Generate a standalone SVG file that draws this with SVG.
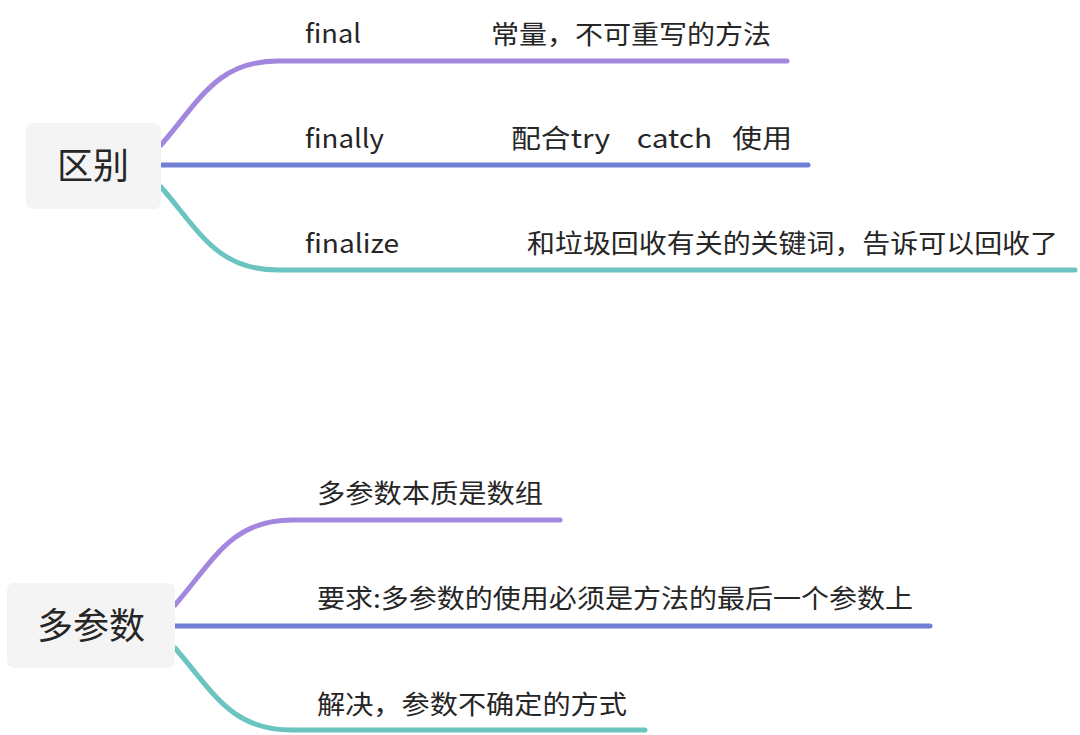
<svg xmlns="http://www.w3.org/2000/svg" width="1080" height="735" viewBox="0 0 1080 735">
<style>
.node rect{fill:#f4f4f4}
.root{font-family:"Noto Sans CJK SC","Noto Sans",sans-serif;font-size:36px;fill:#262626;text-anchor:middle}
.leaf{font-family:"Noto Sans CJK SC","Noto Sans",sans-serif;font-size:26px;fill:#262626;white-space:pre}
.c{fill:none;stroke-width:5;stroke-linecap:round}
.p{stroke:#a386dd}
.b{stroke:#6f7fd6}
.t{stroke:#6cc4c0}
</style>
<rect width="1080" height="735" fill="#ffffff"/>
<g id="connectors">
<path class="c p" d="M161,145 C200,100 217,61 278,61 L787,61"/>
<path class="c b" d="M161,165 L808,165"/>
<path class="c t" d="M161,187 C200,232 217,270 278,270 L1075,270"/>
<path class="c p" d="M175,605 C214,560 231,520 292,520 L560,520"/>
<path class="c b" d="M175,626 L930,626"/>
<path class="c t" d="M175,648 C214,693 231,730 292,730 L645,730"/>
</g>
<g id="node-qubie" class="node">
<rect x="26" y="123" width="135" height="86" rx="7"/>
<text class="root" x="93" y="179">区别</text>
</g>
<g id="node-final">
<text class="leaf" x="305" y="43" textLength="56" lengthAdjust="spacingAndGlyphs">final</text>
<text class="leaf" x="491" y="44" textLength="280" lengthAdjust="spacingAndGlyphs">常量，不可重写的方法</text>
</g>
<g id="node-finally">
<text class="leaf" x="305" y="148" textLength="79" lengthAdjust="spacingAndGlyphs">finally</text>
<text class="leaf" x="511" y="148" textLength="281" lengthAdjust="spacingAndGlyphs">配合try    catch   使用</text>
</g>
<g id="node-finalize">
<text class="leaf" x="305" y="253" textLength="94" lengthAdjust="spacingAndGlyphs">finalize</text>
<text class="leaf" x="527" y="253" textLength="531" lengthAdjust="spacingAndGlyphs">和垃圾回收有关的关键词，告诉可以回收了</text>
</g>
<g id="node-duocanshu" class="node">
<rect x="7" y="583" width="168" height="85" rx="7"/>
<text class="root" x="91" y="639">多参数</text>
</g>
<g id="node-benzhi">
<text class="leaf" x="317" y="503" textLength="226" lengthAdjust="spacingAndGlyphs">多参数本质是数组</text>
</g>
<g id="node-yaoqiu">
<text class="leaf" x="317" y="608" textLength="596" lengthAdjust="spacingAndGlyphs">要求:多参数的使用必须是方法的最后一个参数上</text>
</g>
<g id="node-jiejue">
<text class="leaf" x="317" y="714" textLength="310" lengthAdjust="spacingAndGlyphs">解决，参数不确定的方式</text>
</g>
</svg>
